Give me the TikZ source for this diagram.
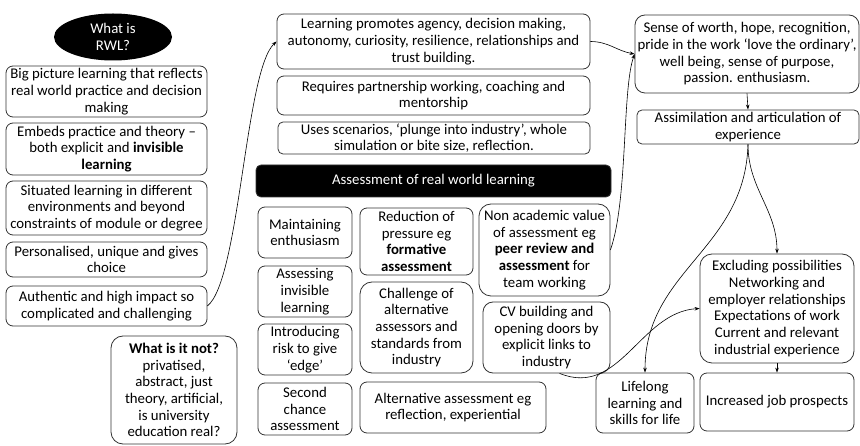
\documentclass[tikz,border=0pt]{standalone}
\usepackage{fontspec}
\setmainfont{Carlito}
\usetikzlibrary{arrows.meta, shapes.geometric, positioning}
\tikzset{
    rbox/.style n args={2}{
        draw=black!80, line width=0.8pt, rounded corners=7pt,
        minimum width=#1, minimum height=#2, inner sep=1pt,
        align=center, font=\fontsize{14.8}{16.7}\selectfont
    },
    darkbox/.style n args={2}{
        rbox={#1}{#2}, fill=black, text=white
    },
    lnk/.style={line width=0.6pt, -{Stealth[length=5pt,width=3.5pt]}}
}

\begin{document}
\begin{tikzpicture}[x=1pt,y=-1pt]
    \useasboundingbox (0,0) rectangle (860,446);
    % left column: what is RWL
    \node[ellipse, fill=black, text=white, minimum width=118pt, minimum height=47pt,
        inner sep=0pt, align=center, font=\fontsize{14.8}{16.7}\selectfont] (rwl) at (113,37) {What is\\RWL?};
    \node[rbox={201pt}{51pt}] (big) at (106.5,91.5) {Big picture learning that reflects\\real world practice and decision\\making};
    \node[rbox={201pt}{52pt}] (embeds) at (106.5,149) {Embeds practice and theory --\\both explicit and \textbf{invisible}\\\textbf{learning}};
    \node[rbox={201pt}{54pt}] (situated) at (106.5,208) {Situated learning in different\\environments and beyond\\constraints of module or degree};
    \node[rbox={201pt}{35pt}] (personal) at (106.5,259.5) {Personalised, unique and gives\\choice};
    \node[rbox={201pt}{40pt}] (authentic) at (106.5,306) {Authentic and high impact so\\complicated and challenging};
    \node[rbox={126pt}{108pt}, rounded corners=12pt] (whatnot) at (174,390) {\textbf{What is it not?}\\privatised,\\abstract, just\\theory, artificial,\\is university\\education real?};
    % middle column
    \node[rbox={313pt}{55pt}] (promotes) at (433.5,41.5) {Learning promotes agency, decision making,\\autonomy, curiosity, resilience, relationships and\\trust building.};
    \node[rbox={313pt}{39pt}] (partner) at (433.5,95.5) {Requires partnership working, coaching and\\mentorship};
    \node[rbox={312pt}{32pt}, rounded corners=5pt] (scenarios) at (434,138) {Uses scenarios, ‘plunge into industry’, whole\\simulation or bite size, reflection.};
    \node[darkbox={355pt}{32pt}, rounded corners=5pt] (assess) at (433.5,181) {Assessment of real world learning};
    % assessment boxes
    \node[rbox={94pt}{51pt}] (maintain) at (305,232.5) {Maintaining\\enthusiasm};
    \node[rbox={94pt}{51pt}] (invisible) at (305,291.5) {Assessing\\invisible\\learning};
    \node[rbox={94pt}{51pt}] (risk) at (305,349.5) {Introducing\\risk to give\\‘edge’};
    \node[rbox={94pt}{52pt}] (second) at (305,409) {Second\\chance\\assessment};
    \node[rbox={113pt}{67pt}] (pressure) at (416.5,241.5) {Reduction of\\pressure eg\\\textbf{formative}\\\textbf{assessment}};
    \node[rbox={113pt}{91pt}, rounded corners=12pt] (challenge) at (416.5,327.5) {Challenge of\\alternative\\assessors and\\standards from\\industry};
    \node[rbox={186pt}{51pt}] (alternative) at (453,407.5) {Alternative assessment eg\\reflection, experiential};
    \node[rbox={131pt}{92pt}, rounded corners=12pt] (nonacad) at (544.5,250) {Non academic value\\of assessment eg\\\textbf{peer review and}\\\textbf{assessment} for\\team working};
    \node[rbox={127pt}{71pt}, rounded corners=10pt] (cv) at (546.5,337.5) {CV building and\\opening doors by\\explicit links to\\industry};
    % right column
    \node[rbox={224pt}{78pt}, rounded corners=10pt] (worth) at (747,54) {Sense of worth, hope, recognition,\\pride in the work ‘love the ordinary’,\\well being, sense of purpose,\\passion. enthusiasm.};
    \node[rbox={222pt}{34pt}, rounded corners=5pt] (assim) at (748,127) {Assimilation and articulation of\\experience};
    \node[rbox={154pt}{109pt}, rounded corners=12pt] (excl) at (777,308.5) {Excluding possibilities\\Networking and\\employer relationships\\Expectations of work\\Current and relevant\\industrial experience};
    \node[rbox={154pt}{58pt}] (jobs) at (777,402) {Increased job prospects};
    \node[rbox={98pt}{60pt}] (lifelong) at (645,403) {Lifelong\\learning and\\skills for life};
    % links
    \draw[lnk] (authentic.east) .. controls (240,280) and (245,70) .. (promotes.west);
    \draw[lnk] (promotes.east) to[out=0, in=170] (worth.west);
    \draw[lnk] (nonacad.east) .. controls (628,200) and (622,90) .. (worth.west);
    \draw[lnk] (worth.south) -- (assim.north);
    \draw[lnk] (assim.south) to[out=-90, in=90] (excl.north);
    \draw[lnk] (assim.south) .. controls (745,250) and (645,270) .. (lifelong.north);
    \draw[lnk] (cv.-70) .. controls (620,398) and (640,312) .. (excl.west);
    \draw[lnk] (excl.south) -- (jobs.north);
\end{tikzpicture}
\end{document}
